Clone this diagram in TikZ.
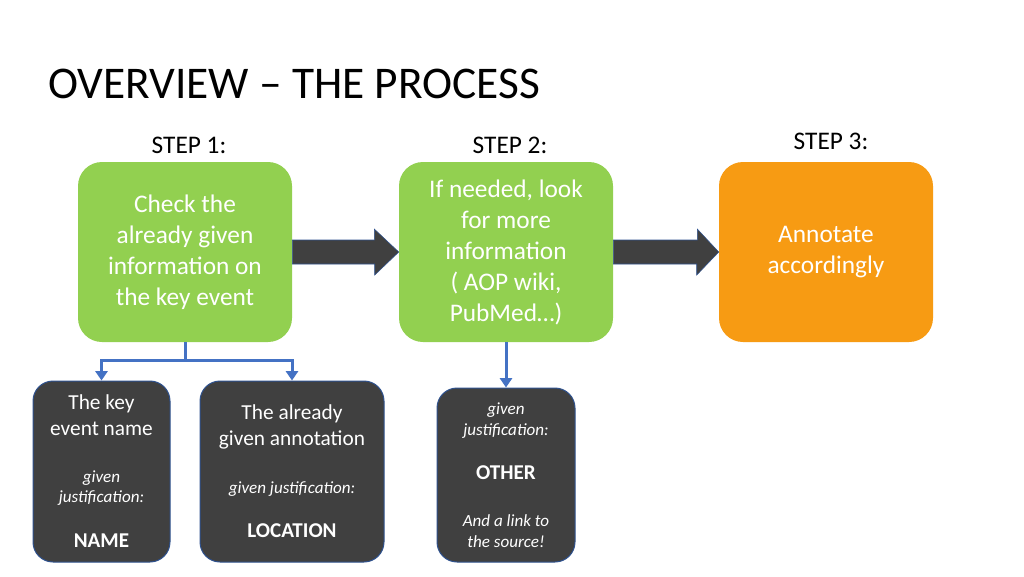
\documentclass[tikz,border=0pt]{standalone}
\usepackage{fontspec}
\setmainfont{Carlito}
\usetikzlibrary{arrows.meta,calc}
\definecolor{lgreen}{HTML}{92D050}
\definecolor{orng}{HTML}{F79B13}
\definecolor{dgray}{HTML}{404040}
\definecolor{bline}{HTML}{4472C4}
\definecolor{dline}{HTML}{2F528F}
\tikzset{
  greenbox/.style={rectangle, rounded corners=18pt, fill=lgreen, minimum width=160.5pt, minimum height=135pt, align=center, text=white, font=\fontsize{19}{23.25}\selectfont, inner sep=0pt},
  orangebox/.style={greenbox, fill=orng},
  darkbox/.style={rectangle, rounded corners=15pt, fill=dgray, draw=dline, line width=0.75pt, minimum height=135.75pt, inner sep=0pt},
  steplabel/.style={font=\fontsize{19}{22}\selectfont, anchor=base},
  maintxt/.style={text=white, align=center, font=\fontsize{16}{19.5}\selectfont, anchor=base},
  itxt/.style={text=white, align=center, font=\fontsize{12.8}{15}\selectfont\itshape, anchor=base},
  btxt/.style={text=white, align=center, font=\fontsize{15.8}{18}\selectfont\bfseries, anchor=base},
  bigarrow/.style={fill=dgray, draw=dline, line width=0.4pt},
  conn/.style={draw=bline, line width=2.25pt, -{Triangle[width=9pt,length=7pt]}}
}
\begin{document}
\begin{tikzpicture}[x=0.75pt,y=-0.75pt]
\useasboundingbox[fill=white] (0,0) rectangle (1024,576);
\node[anchor=base west, font=\fontsize{34}{40}\selectfont, inner sep=0pt] (title) at (48,98) {OVERVIEW – THE PROCESS};
\node[steplabel] (s1) at (189,153) {STEP 1:};
\node[steplabel] (s2) at (510,153) {STEP 2:};
\node[steplabel] (s3) at (831,149) {STEP 3:};
\node[greenbox] (g1) at (185,252) {Check the\\already given\\information on\\the key event};
\node[greenbox] (g2) at (506,252) {If needed, look\\for more\\information\\( AOP wiki,\\PubMed…)};
\node[orangebox] (o3) at (826,252) {Annotate\\accordingly};
% big arrows
\draw[bigarrow] ($(g1.east)+(0,-12)$) -- ++(82,0) -- ++(0,-11) -- (g2.west) -- ++(-24,23) -- ++(0,-11) -- ($(g1.east)+(0,12)$) -- cycle;
\draw[bigarrow] ($(g2.east)+(0,-12)$) -- ++(84,0) -- ++(0,-11) -- (o3.west) -- ++(-22,23) -- ++(0,-11) -- ($(g2.east)+(0,12)$) -- cycle;
% dark boxes
\node[darkbox, minimum width=102.75pt] (dA) at (101.5,471.5) {};
\node[darkbox, minimum width=138pt] (dB) at (292,471.5) {};
\node[darkbox, minimum width=103.5pt, minimum height=130.5pt] (dC) at (506,475) {};
% connectors
\draw[conn] (g1.south) -- ++(0,18) -| (dA.north);
\draw[conn] (g1.south) -- ++(0,18) -| (dB.north);
\draw[conn] (g2.south) -- (dC.north);
% box A text
\node[maintxt] (a1) at (101.5,409) {The key};
\node[maintxt] (a2) at (101.5,435) {event name};
\node[itxt] (a3) at (101.5,482) {given};
\node[itxt] (a4) at (101.5,502) {justification:};
\node[btxt] (a5) at (101.5,547) {NAME};
% box B text
\node[maintxt] (b1) at (292,419) {The already};
\node[maintxt] (b2) at (292,445) {given annotation};
\node[itxt] (b3) at (292,493) {given justification:};
\node[btxt] (b4) at (292,537) {LOCATION};
% box C text
\node[itxt] (c1) at (506,414) {given};
\node[itxt] (c2) at (506,435) {justification:};
\node[btxt] (c3) at (506,479) {OTHER};
\node[itxt] (c4) at (506,526) {And a link to};
\node[itxt] (c5) at (506,547) {the source!};
\end{tikzpicture}
\end{document}
